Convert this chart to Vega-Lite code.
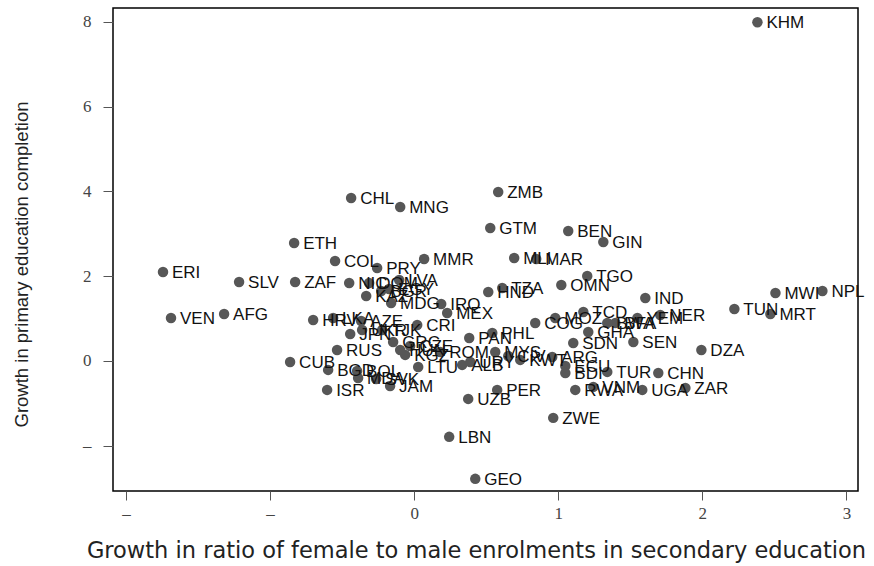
{
  "$schema": "https://vega.github.io/schema/vega-lite/v6.json",
  "width": 745,
  "height": 483,
  "autosize": "none",
  "padding": {"left": 113, "top": 8, "right": 16, "bottom": 75},
  "background": "white",
  "config": {
    "view": {"stroke": "black", "strokeWidth": 1.5},
    "font": "Liberation Sans"
  },
  "data": {
    "values": [
      {"c": "KHM", "x": 2.382, "y": 7.995},
      {"c": "ZMB", "x": 0.583, "y": 3.986},
      {"c": "CHL", "x": -0.4375, "y": 3.844},
      {"c": "MNG", "x": -0.097, "y": 3.632},
      {"c": "GTM", "x": 0.528, "y": 3.137},
      {"c": "BEN", "x": 1.069, "y": 3.066},
      {"c": "GIN", "x": 1.3125, "y": 2.807},
      {"c": "ETH", "x": -0.833, "y": 2.783},
      {"c": "COL", "x": -0.549, "y": 2.358},
      {"c": "MMR", "x": 0.069, "y": 2.406},
      {"c": "MLI", "x": 0.694, "y": 2.429},
      {"c": "MAR", "x": 0.847, "y": 2.406},
      {"c": "PRY", "x": -0.257, "y": 2.193},
      {"c": "ERI", "x": -1.743, "y": 2.099},
      {"c": "SLV", "x": -1.215, "y": 1.863},
      {"c": "ZAF", "x": -0.826, "y": 1.863},
      {"c": "TGO", "x": 1.201, "y": 2.005},
      {"c": "OMN", "x": 1.021, "y": 1.792},
      {"c": "TZA", "x": 0.611, "y": 1.722},
      {"c": "HND", "x": 0.514, "y": 1.627},
      {"c": "IND", "x": 1.604, "y": 1.486},
      {"c": "MWI", "x": 2.507, "y": 1.604},
      {"c": "NPL", "x": 2.833, "y": 1.651},
      {"c": "TUN", "x": 2.222, "y": 1.226},
      {"c": "MRT", "x": 2.472, "y": 1.108},
      {"c": "VEN", "x": -1.6875, "y": 1.014},
      {"c": "AFG", "x": -1.319, "y": 1.108},
      {"c": "NIC", "x": -0.451, "y": 1.84},
      {"c": "DOM", "x": -0.3125, "y": 1.84},
      {"c": "LVA", "x": -0.104, "y": 1.91},
      {"c": "KAZ", "x": -0.333, "y": 1.533},
      {"c": "BGR", "x": -0.229, "y": 1.651},
      {"c": "EGY", "x": -0.174, "y": 1.698},
      {"c": "MDG", "x": -0.16, "y": 1.368},
      {"c": "HRV", "x": -0.701, "y": 0.967},
      {"c": "LKA", "x": -0.5625, "y": 1.014},
      {"c": "AZE", "x": -0.368, "y": 0.943},
      {"c": "UKR", "x": -0.361, "y": 0.731},
      {"c": "JPN", "x": -0.444, "y": 0.637},
      {"c": "TJK", "x": -0.222, "y": 0.731},
      {"c": "RUS", "x": -0.535, "y": 0.259},
      {"c": "CUB", "x": -0.861, "y": -0.024},
      {"c": "BGD", "x": -0.597, "y": -0.212},
      {"c": "BOL", "x": -0.396, "y": -0.236},
      {"c": "MDA", "x": -0.389, "y": -0.401},
      {"c": "SVK", "x": -0.264, "y": -0.425},
      {"c": "JAM", "x": -0.167, "y": -0.59},
      {"c": "ISR", "x": -0.604, "y": -0.684},
      {"c": "LTU", "x": 0.028, "y": -0.142},
      {"c": "KGZ", "x": -0.0625, "y": 0.142},
      {"c": "GRC", "x": -0.146, "y": 0.448},
      {"c": "ROM", "x": 0.181, "y": 0.212},
      {"c": "HUN", "x": -0.097, "y": 0.259},
      {"c": "CZE", "x": -0.028, "y": 0.354},
      {"c": "CRI", "x": 0.021, "y": 0.849},
      {"c": "IRQ", "x": 0.1875, "y": 1.344},
      {"c": "MEX", "x": 0.229, "y": 1.132},
      {"c": "COG", "x": 0.84, "y": 0.896},
      {"c": "MOZ", "x": 0.979, "y": 1.014},
      {"c": "TCD", "x": 1.174, "y": 1.156},
      {"c": "PHL", "x": 0.542, "y": 0.66},
      {"c": "PAN", "x": 0.382, "y": 0.542},
      {"c": "MYS", "x": 0.5625, "y": 0.212},
      {"c": "ALB", "x": 0.333, "y": -0.094},
      {"c": "URY", "x": 0.389, "y": -0.024},
      {"c": "CIV", "x": 0.653, "y": 0.118},
      {"c": "KWT", "x": 0.736, "y": 0.024},
      {"c": "ARG", "x": 0.958, "y": 0.094},
      {"c": "ECU", "x": 1.049, "y": -0.118},
      {"c": "BDI", "x": 1.049, "y": -0.283},
      {"c": "TUR", "x": 1.34, "y": -0.259},
      {"c": "CHN", "x": 1.694, "y": -0.283},
      {"c": "RWA", "x": 1.118, "y": -0.684},
      {"c": "VNM", "x": 1.243, "y": -0.613},
      {"c": "UGA", "x": 1.583, "y": -0.684},
      {"c": "ZAR", "x": 1.882, "y": -0.637},
      {"c": "DZA", "x": 1.993, "y": 0.259},
      {"c": "SDN", "x": 1.104, "y": 0.425},
      {"c": "SEN", "x": 1.521, "y": 0.448},
      {"c": "GHA", "x": 1.208, "y": 0.684},
      {"c": "BFA", "x": 1.396, "y": 0.896},
      {"c": "BWA", "x": 1.34, "y": 0.896},
      {"c": "YEM", "x": 1.549, "y": 1.014},
      {"c": "NER", "x": 1.708, "y": 1.085},
      {"c": "ZWE", "x": 0.965, "y": -1.344},
      {"c": "LBN", "x": 0.243, "y": -1.792},
      {"c": "GEO", "x": 0.424, "y": -2.783},
      {"c": "UZB", "x": 0.375, "y": -0.896},
      {"c": "PER", "x": 0.576, "y": -0.684}
    ]
  },
  "encoding": {
    "x": {
      "field": "x",
      "type": "quantitative",
      "scale": {"domain": [-2.09, 3.08], "nice": false, "zero": false},
      "axis": {
        "values": [-2, -1, 0, 1, 2, 3],
        "labelExpr": "datum.value < 0 ? '–' : datum.label",
        "grid": false,
        "domain": false,
        "tickSize": 9,
        "tickColor": "#555555",
        "tickWidth": 1,
        "labelColor": "#444444",
        "labelFont": "Liberation Sans Narrow",
        "labelFontSize": 17,
        "labelPadding": 5,
        "title": "Growth in ratio of female to male enrolments in secondary education",
        "titleFont": "DejaVu Sans",
        "titleFontSize": 22.5,
        "titleFontWeight": "normal",
        "titleColor": "#222222",
        "titlePadding": 18,
        "titleX": 363
      }
    },
    "y": {
      "field": "y",
      "type": "quantitative",
      "scale": {"domain": [-3.07, 8.33], "nice": false, "zero": false},
      "axis": {
        "values": [-2, 0, 2, 4, 6, 8],
        "labelExpr": "datum.value < 0 ? '–' : datum.label",
        "grid": false,
        "domain": false,
        "tickSize": 10,
        "tickColor": "#555555",
        "tickWidth": 1,
        "labelColor": "#444444",
        "labelFont": "Liberation Sans Narrow",
        "labelFontSize": 17,
        "labelPadding": 12,
        "title": "Growth in primary education completion",
        "titleFont": "Liberation Sans",
        "titleFontSize": 18.5,
        "titleFontWeight": "normal",
        "titleColor": "#222222",
        "titlePadding": 51,
        "titleY": 256
      }
    }
  },
  "layer": [
    {
      "mark": {"type": "circle", "size": 110, "color": "#575757", "opacity": 1}
    },
    {
      "mark": {"type": "text", "align": "left", "baseline": "middle", "dx": 9, "dy": 1, "fontSize": 17, "font": "Liberation Sans", "color": "#111111"},
      "encoding": {"text": {"field": "c"}}
    }
  ]
}
